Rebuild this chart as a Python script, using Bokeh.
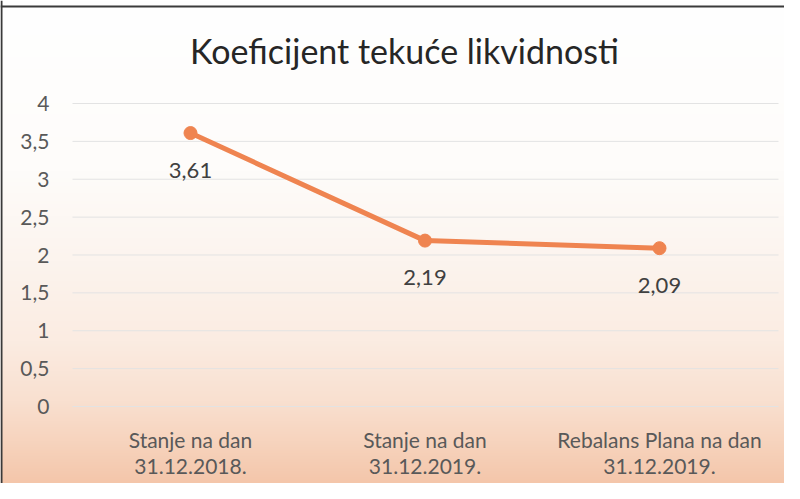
import numpy as np
from bokeh.plotting import figure
from bokeh.models import Range1d, LinearAxis, FixedTicker, Span, Label, ColumnDataSource
from bokeh.embed import file_html
from bokeh.resources import INLINE
from bokeh.core.properties import value

# ---- data ----
title_text = "Koeficijent tekuće likvidnosti"
categories = ["Stanje na dan\n31.12.2018.",
              "Stanje na dan\n31.12.2019.",
              "Rebalans Plana na dan\n31.12.2019."]
values = [3.61, 2.19, 2.09]
value_labels = ["3,61", "2,19", "2,09"]
y_ticks = [0, 0.5, 1, 1.5, 2, 2.5, 3, 3.5, 4]
y_tick_labels = ["0", "0,5", "1", "1,5", "2", "2,5", "3", "3,5", "4"]

# ---- layout constants (pixels) ----
W, H = 784, 483
PX_X = 234.5          # pixels per category
PX_Y = 75.75          # pixels per unit
CAT0_X = 198 - 8      # first category centre, from figure left
ZERO_Y = 414 - 8      # y=0 from figure top

x_start = -CAT0_X / PX_X
x_end = x_start + W / PX_X
y_end = ZERO_Y / PX_Y
y_start = y_end - H / PX_Y

def dx(px):  # figure px -> data x
    return x_start + px / PX_X

def dy(py):  # figure px from top -> data y
    return y_end - py / PX_Y

FONT = "Lato"

p = figure(width=W, height=H, output_backend="svg", toolbar_location=None,
           x_range=Range1d(x_start, x_end), y_range=Range1d(y_start, y_end),
           x_axis_type=None, y_axis_type=None, min_border=0,
           border_fill_color="white", outline_line_color=None)

# gradient background
stops_py = [0, 170, 260, 340, 400, 440, 483]
stops_rgb = [(255, 255, 255), (254, 252, 250), (252, 244, 238), (251, 236, 226),
             (249, 224, 208), (247, 212, 190), (244, 198, 170)]
rows = np.arange(H)[::-1]  # image row 0 = bottom
img = np.zeros((H, 2), dtype=np.uint32)
view = img.view(dtype=np.uint8).reshape((H, 2, 4))
for c in range(3):
    ch = np.interp(rows, stops_py, [s[c] for s in stops_rgb])
    view[:, :, c] = ch[:, None].astype(np.uint8)
view[:, :, 3] = 255
p.image_rgba(image=[img], x=x_start, y=y_start, dw=x_end - x_start, dh=y_end - y_start)

# grid lines
p.segment(x0=dx(72), x1=dx(778), y0=y_ticks, y1=y_ticks, line_color="#E3E3E3", line_width=1)

# border (left & top)
p.add_layout(Span(location=dx(1), dimension="height", line_color="#3a3a3a", line_width=2))
p.add_layout(Span(location=dy(6), dimension="width", line_color="#3a3a3a", line_width=2))

# y axis inside frame
yax = LinearAxis(fixed_location=dx(60), ticker=FixedTicker(ticks=y_ticks),
                 major_label_overrides={t: l for t, l in zip(y_ticks, y_tick_labels)})
yax.axis_line_color = None
yax.major_tick_line_color = None
yax.minor_tick_line_color = None
yax.major_label_standoff = 5
yax.major_label_text_font = FONT
yax.major_label_text_font_size = "21px"
yax.major_label_text_color = "#595959"
p.add_layout(yax, "left")

# x axes (two lines)
xs = list(range(len(categories)))
line1 = [c.split("\n")[0] for c in categories]
line2 = [c.split("\n")[1] for c in categories]
for labels, standoff in ((line1, 14), (line2, 46)):
    ax = LinearAxis(fixed_location=0, ticker=FixedTicker(ticks=xs),
                    major_label_overrides={i: l for i, l in zip(xs, labels)})
    ax.axis_line_color = None
    ax.major_tick_line_color = None
    ax.minor_tick_line_color = None
    ax.major_label_standoff = standoff
    ax.major_label_text_font = FONT
    ax.major_label_text_font_size = "21px"
    ax.major_label_text_color = "#595959"
    p.add_layout(ax, "below")

src = ColumnDataSource(dict(x=xs, y=values, lab=value_labels))
p.line("x", "y", source=src, line_color="#EF8450", line_width=5)
p.scatter("x", "y", source=src, size=13, fill_color="#EF8450", line_color="#EF8450")
p.text("x", "y", text="lab", source=src, y_offset=37, text_align="center",
       text_baseline="middle", text_font=value(FONT), text_font_size="22px",
       text_color="#404040")

p.add_layout(Label(x=dx(404), y=dy(50), text=title_text, text_align="center",
                   text_baseline="middle", text_font=FONT, text_font_size="34px",
                   text_color="#262626"))

open("out.html", "w").write(file_html(p, INLINE))
